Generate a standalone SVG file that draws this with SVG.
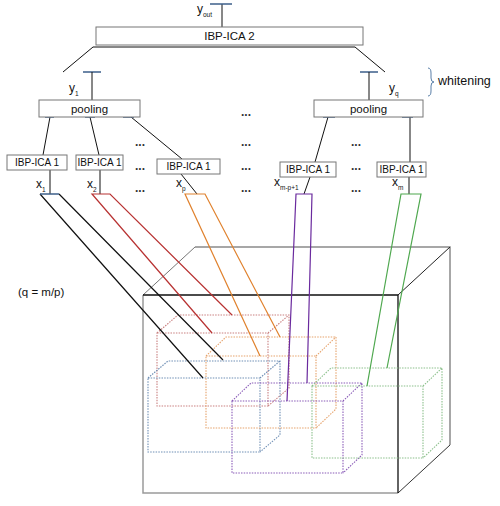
<svg xmlns="http://www.w3.org/2000/svg" width="500" height="506" viewBox="0 0 500 506">
<style>
.box{fill:#fff;stroke:#777;stroke-width:1}
.t{font-family:"Liberation Sans",Arial,sans-serif;fill:#111}
.lbl{font-size:12px}
.sub{font-size:6.5px}
.dots{font-size:12px;font-weight:bold;fill:#333}
.ln{stroke:#111;stroke-width:1;fill:none}
.bar{stroke:#3d5f8a;stroke-width:1.5;fill:none}
.dot{fill:none;stroke-width:1.1;stroke-dasharray:1.5 1.2}
.strip{fill:none;stroke-width:1.2}
</style>
<rect width="500" height="506" fill="#fff"/>

<g id="volume">
<path d="M143,295 L195,247" stroke="#777" stroke-width="1" fill="none"/>
<path d="M195,247 H450 V445" stroke="#8a8a8a" stroke-width="1.5" fill="none"/>
<path d="M398,295 L450,247" stroke="#222" stroke-width="1" fill="none"/>
<path d="M398,493 L450,445" stroke="#333" stroke-width="1" fill="none"/>
<path d="M143,295 V493 H398" stroke="#9a9a9a" stroke-width="1.5" fill="none"/>
<path d="M143,295 H398 V493" stroke="#111" stroke-width="1.3" fill="none"/>
</g>

<g id="subvolumes">
<path id="red-cube" class="dot" stroke="#c98080" d="M157,333 h111 v73 h-111 z M157,333 l21,-18 h111 v73 l-21,18 M268,333 l21,-18"/>
<path id="blue-cube" class="dot" stroke="#6f8fb5" d="M148,378 h112 v74 h-112 z M148,378 l20,-17 h112 v74 l-20,17 M260,378 l20,-17"/>
<path id="orange-cube" class="dot" stroke="#e6a36c" d="M206,356 h110 v72 h-110 z M206,356 l20,-19 h110 v72 l-20,19 M316,356 l20,-19"/>
<path id="purple-cube" class="dot" stroke="#8a5cb8" d="M232,401 h111 v72 h-111 z M232,401 l19,-18 h111 v72 l-19,18 M343,401 l19,-18"/>
<path id="green-cube" class="dot" stroke="#8cc08c" d="M312,386 h111 v72 h-111 z M312,386 l19,-18 h111 v72 l-19,18 M423,386 l19,-18"/>
</g>

<g id="connectors">
<path class="ln" d="M222,4 V27"/>
<path class="bar" d="M210,4 H232"/>
<path class="ln" d="M93,47 H355 L385,72 M93,47 L63,72" stroke="#333"/>
<path class="bar" d="M83,72 H101 M360,72 H378"/>
<path class="ln" d="M92,72 V100 M369,72 V100"/>
<path class="ln" d="M50,117 L43,155 M90,117 L99,155 M131,117 L182,159 M328,117 L315,162 M410,117 V162"/>
<path class="bar" d="M45,117 H54 M85,117 H95 M123,117 H134 M323,117 H335 M402,117 H413"/>
<path class="ln" d="M50,170 V194 M100,170 V194 M181,174 L197,194 M310,177 L304,194 M409,177 V194"/>
<path class="strip" stroke="#111" d="M203,378 L40,194 M59,194 L223,360"/>
<path class="bar" d="M40,194 H59"/>
<path class="strip" stroke="#b83232" d="M212,333 L92,194 H110 L232,315"/>
<path class="strip" stroke="#e0822e" d="M260,356 L185,194 H205 L280,337"/>
<path class="strip" stroke="#6a2a9e" d="M287,401 L296,194 H312 L307,383"/>
<path class="strip" stroke="#4fa84f" d="M367,386 L401,194 H421 L387,368"/>
<path d="M428,68 q3,0 3,5 v5 q0,4 3,4 q-3,0 -3,4 v5 q0,5 -3,5" stroke="#5a7fa8" stroke-width="1" fill="none"/>
</g>

<g id="ibp-ica-2">
<rect class="box" x="96" y="27" width="267" height="18"/>
<text class="t" font-size="11.5" x="229.5" y="40" text-anchor="middle">IBP-ICA 2</text>
</g>
<g id="pooling-1">
<rect class="box" x="39" y="100" width="101" height="17"/>
<text class="t" font-size="11.5" x="89.5" y="112.5" text-anchor="middle">pooling</text>
</g>
<g id="pooling-q">
<rect class="box" x="314" y="100" width="109" height="17"/>
<text class="t" font-size="11.5" x="368.5" y="112.5" text-anchor="middle">pooling</text>
</g>
<g id="ibp-ica-1-a">
<rect class="box" x="7" y="155" width="60" height="15"/>
<text class="t" font-size="10" x="37" y="166" text-anchor="middle">IBP-ICA 1</text>
</g>
<g id="ibp-ica-1-b">
<rect class="box" x="76" y="155" width="47" height="15"/>
<text class="t" font-size="10" x="99.5" y="166" text-anchor="middle">IBP-ICA 1</text>
</g>
<g id="ibp-ica-1-c">
<rect class="box" x="157" y="159" width="63" height="15"/>
<text class="t" font-size="10" x="188.5" y="170" text-anchor="middle">IBP-ICA 1</text>
</g>
<g id="ibp-ica-1-d">
<rect class="box" x="280" y="162" width="56" height="15"/>
<text class="t" font-size="10" x="308" y="173" text-anchor="middle">IBP-ICA 1</text>
</g>
<g id="ibp-ica-1-e">
<rect class="box" x="377" y="162" width="49" height="15"/>
<text class="t" font-size="10" x="401.5" y="173" text-anchor="middle">IBP-ICA 1</text>
</g>

<g id="labels">
<text class="t lbl" x="197" y="13">y<tspan class="sub" dy="4">out</tspan></text>
<text class="t lbl" x="69" y="92">y<tspan class="sub" dy="4">1</tspan></text>
<text class="t lbl" x="389" y="92">y<tspan class="sub" dy="4">q</tspan></text>
<text class="t" font-size="12.5" x="438" y="85">whitening</text>
<text class="t" font-size="11.5" x="18" y="296">(q = m/p)</text>
<text class="t lbl" x="36" y="188">x<tspan class="sub" dy="4">1</tspan></text>
<text class="t lbl" x="87" y="188">x<tspan class="sub" dy="4">2</tspan></text>
<text class="t lbl" x="176" y="187">x<tspan class="sub" dy="4">p</tspan></text>
<text class="t lbl" x="274" y="186">x<tspan class="sub" dy="4">m-p+1</tspan></text>
<text class="t lbl" x="392" y="186">x<tspan class="sub" dy="4">m</tspan></text>
</g>

<g id="ellipses">
<text class="t dots" x="135" y="146">...</text>
<text class="t dots" x="135" y="170">...</text>
<text class="t dots" x="135" y="192">...</text>
<text class="t dots" x="241" y="116">...</text>
<text class="t dots" x="241" y="146">...</text>
<text class="t dots" x="241" y="170">...</text>
<text class="t dots" x="241" y="192">...</text>
<text class="t dots" x="351" y="146">...</text>
<text class="t dots" x="351" y="170">...</text>
<text class="t dots" x="351" y="192">...</text>
</g>
</svg>
